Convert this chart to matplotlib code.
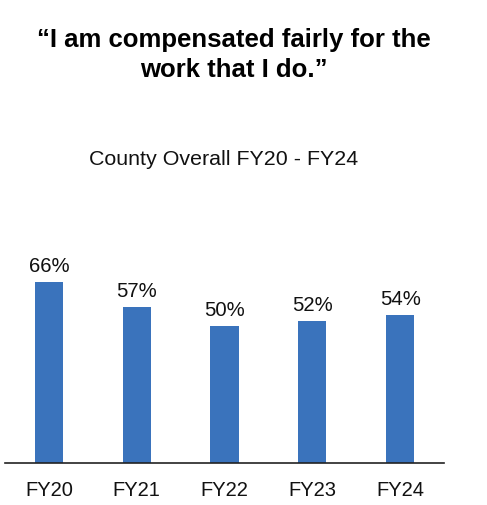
import matplotlib.pyplot as plt

years = ["FY20", "FY21", "FY22", "FY23", "FY24"]
pct = [66, 57, 50, 52, 54]
bar_color = "#3A73BC"

W, H = 487, 506
fig = plt.figure(figsize=(W / 100, H / 100), dpi=100)
plt.rcParams['font.family'] = ['Liberation Sans', 'DejaVu Sans']

# axes placed in pixel terms: baseline at y=464, x from 5 to 444
ax = fig.add_axes([5 / W, (H - 464) / H, 439 / W, 200 / H])
x = range(len(years))
ax.bar(x, pct, width=0.32, color=bar_color)
ax.set_xlim(-0.5, len(years) - 0.5)
ax.set_ylim(0, 200 / 2.74)

for i, v in zip(x, pct):
    ax.text(i, v + 2.5, f"{v}%", ha='center', va='bottom', fontsize=14.6, color='#111111')

ax.set_xticks(list(x))
ax.set_xticklabels(years, fontsize=14.5, color='#111111')
ax.tick_params(axis='x', length=0, pad=12)
ax.set_yticks([])
for s in ['top', 'right', 'left']:
    ax.spines[s].set_visible(False)
ax.spines['bottom'].set_color('#222222')
ax.spines['bottom'].set_linewidth(1.2)

fig.text(234 / W, 1 - 55 / H, "\u201cI am compensated fairly for the\nwork that I do.\u201d",
         ha='center', va='center', fontsize=18.5, fontweight='bold', linespacing=1.32)
fig.text(223.5 / W, 1 - 160 / H, "County Overall FY20 - FY24", ha='center', va='center',
         fontsize=15.4, color='#111111')

fig.savefig("out.png", dpi=100)
